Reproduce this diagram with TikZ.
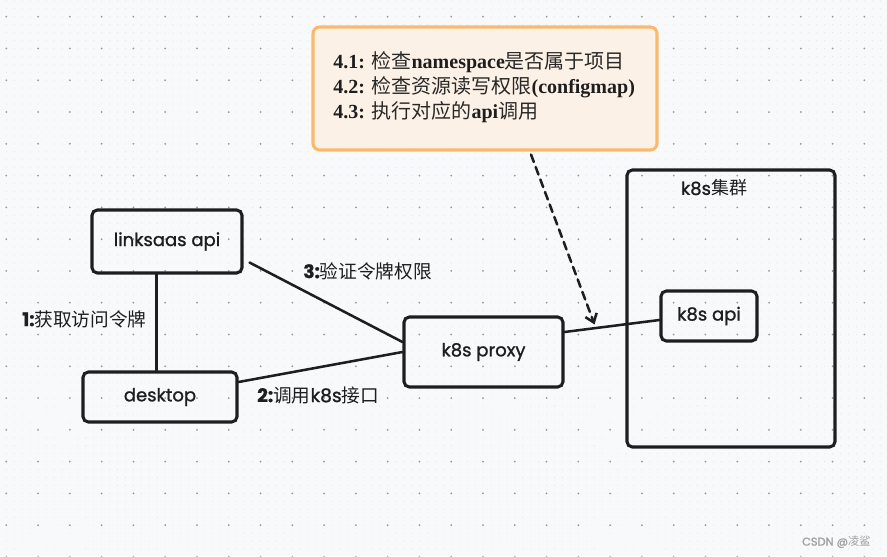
\documentclass[tikz,border=0pt]{standalone}
\usepackage{fontspec}
\setmainfont{Liberation Serif}
\newfontfamily\cjk{Noto Sans CJK SC}
\newfontfamily\hand{Poppins}[FakeBold=1.2]
\usetikzlibrary{arrows.meta,calc}
\definecolor{bg}{RGB}{248,249,250}
\definecolor{ink}{RGB}{30,30,30}
\definecolor{notefill}{RGB}{252,241,230}
\definecolor{noteline}{RGB}{250,186,110}
\definecolor{majdot}{RGB}{150,152,158}
\definecolor{mindot}{RGB}{226,228,232}
\definecolor{cjkink}{RGB}{40,40,40}
\definecolor{wm}{RGB}{160,160,160}
\begin{document}
\begin{tikzpicture}[x=0.75pt,y=-0.75pt,
  box/.style={draw=ink,line width=2.3pt,rounded corners=4pt,inner sep=0pt,
    font=\hand\fontsize{13.5}{15}\selectfont,text=ink},
  conn/.style={draw=ink,line width=1.9pt,line cap=round},
  lbl/.style={anchor=west,inner sep=0pt,text=ink,font=\fontsize{14}{17}\selectfont},
  mindots/.style={draw=mindot,line width=0.8pt,line cap=round,dash pattern=on 0pt off 5.95875pt},
  majdots/.style={draw=majdot,line width=1.5pt,line cap=round,dash pattern=on 0pt off 23.835pt},
]
% background
\fill[bg] (0,0) rectangle (887,556);
\useasboundingbox (0,0) rectangle (887,556);
\foreach \j in {0,...,69}{
  \draw[mindots] (6.3,0.8+7.945*\j) -- (887,0.8+7.945*\j);
}
\foreach \j in {0,...,17}{
  \draw[majdots] (6.3,16.7+31.78*\j) -- (887,16.7+31.78*\j);
}
% note
\node[draw=noteline,fill=notefill,line width=2.3pt,rounded corners=5pt,
  minimum width=258pt,minimum height=92.25pt,inner sep=0pt] (note) at (485,88.5) {};
\node[anchor=west,align=left,inner sep=0pt,font=\fontsize{15}{18.75}\selectfont,text=ink]
  (notetext) at (333,87)
  {\textbf{4.1:} {\cjk\color{cjkink}检查}\textbf{namespace}{\cjk\color{cjkink}是否属于项目}\\
   \textbf{4.2:} {\cjk\color{cjkink}检查资源读写权限}\textbf{(configmap)}\\
   \textbf{4.3:} {\cjk\color{cjkink}执行对应的}\textbf{api}{\cjk\color{cjkink}调用}};
% boxes
\node[box,minimum width=112.5pt,minimum height=47.25pt] (linksaas) at (167,241.5) {linksaas api};
\node[box,minimum width=115.5pt,minimum height=37.5pt] (desktop) at (160,397) {desktop};
\node[box,minimum width=119.25pt,minimum height=52.5pt] (proxy) at (483.5,352) {k8s proxy};
\node[box,minimum width=156pt,minimum height=207.75pt] (cluster) at (731,308.5) {};
\node[box,minimum width=72pt,minimum height=37.5pt] (k8sapi) at (709,316) {k8s api};
\node[inner sep=0pt,text=ink] (clustertitle) at (714,188)
  {\hand\fontsize{13.5}{15}\selectfont k8s\cjk 集群};
% connectors
\draw[conn] ($(linksaas.south)+(-10.5,0)$) -- ($(desktop.north)+(-3.5,0)$);
\draw[conn] ($(linksaas.south east)+(6,-12)$) -- ($(proxy.west)+(0,-10)$);
\draw[conn] ($(desktop.east)+(0,-15)$) -- (proxy.west);
\draw[conn] ($(proxy.east)+(0,-20)$) -- ($(k8sapi.west)+(0,4)$);
\coordinate (arrowend) at ($(proxy.north east)+(30,9)$);
\draw[conn,dashed,dash pattern=on 6pt off 4pt,-{Straight Barb[length=6pt,width=9pt]}]
  ($(note.south)+(46,3)$) -- (arrowend);
% labels
\node[lbl] (l1) at (22,319) {{\hand\bfseries 1:}\cjk 获取访问令牌};
\node[lbl] (l3) at (303,271) {{\hand\bfseries 3:}\cjk 验证令牌权限};
\node[lbl] (l2) at (257,395) {{\hand\bfseries 2:}\cjk 调用{\hand k8s}接口};
\node[anchor=east,inner sep=0pt,text=wm,font=\fontsize{8.5}{10}\selectfont] (wm) at (871,542)
  {\hand CSDN @\cjk 凌鲨};
\end{tikzpicture}
\end{document}
